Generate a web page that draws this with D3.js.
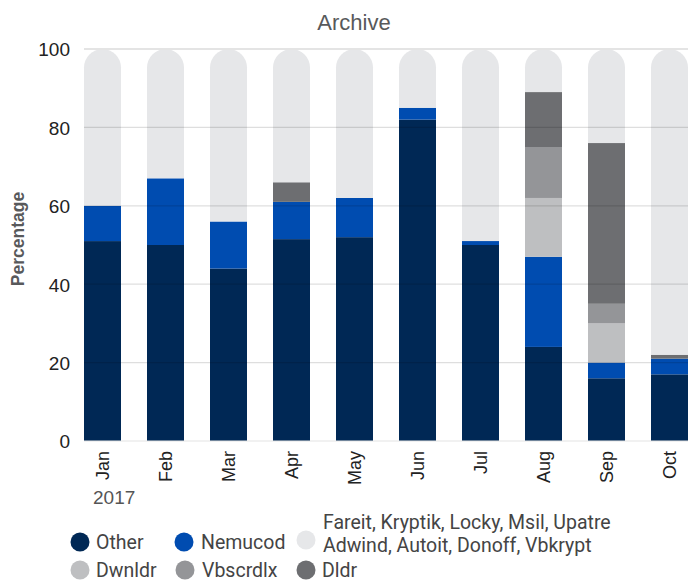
<!DOCTYPE html>
<head>
  <meta charset="utf-8">
  <script src="https://d3js.org/d3.v7.min.js"></script>
  <style>
    body { margin:0; background:#fff; }
    text { font-family: "Liberation Sans", Arial, sans-serif; }
  </style>
</head>
<body>
<script>

var width = 688, height = 582;

var months = ["Jan","Feb","Mar","Apr","May","Jun","Jul","Aug","Sep","Oct"];
var other    = [51, 50, 44, 51.5, 52, 82, 50, 24, 16, 17];
var nemucod  = [9, 17, 12, 9.5, 10, 3, 1, 23, 4, 4];
var dwnldr   = [0, 0, 0, 0, 0, 0, 0, 15, 10, 0];
var vbscrdlx = [0, 0, 0, 0, 0, 0, 0, 13, 5, 0];
var dldr     = [0, 0, 0, 5, 0, 0, 0, 14, 41, 1];
var fareit   = [40, 33, 44, 34, 38, 15, 49, 11, 24, 78];
var yTicks = [0, 20, 40, 60, 80, 100];

var seriesNames = ["Other", "Nemucod", "Dwnldr", "Vbscrdlx", "Dldr", "Fareit"];
var seriesValues = [other, nemucod, dwnldr, vbscrdlx, dldr, fareit];
var colors = ["#002855", "#004cb0", "#bebfc1", "#949598", "#6d6e71", "#e6e7e9"];

var margin = {top: 49, right: 0, bottom: 141, left: 84};

var rows = months.map(function(m, i) {
  var r = {month: m};
  seriesNames.forEach(function(s, j) { r[s] = seriesValues[j][i]; });
  return r;
});

var stacked = d3.stack().keys(seriesNames)(rows);

var x = d3.scaleBand()
  .domain(months)
  .range([margin.left, width - margin.right])
  .paddingInner(26 / 63)
  .paddingOuter(0);

var y = d3.scaleLinear()
  .domain([0, 100])
  .range([height - margin.bottom, margin.top]);

var svg = d3.select("body").append("svg")
  .attr("width", width)
  .attr("height", height);

// title
svg.append("text")
  .attr("x", 354).attr("y", 30)
  .attr("text-anchor", "middle")
  .attr("fill", "#58595b")
  .style("font-size", "22px")
  .text("Archive");

// bars
var bw = x.bandwidth();
stacked.forEach(function(layer, j) {
  var g = svg.append("g").attr("fill", colors[j]);
  layer.forEach(function(d, i) {
    var x0 = x(months[i]);
    var top = y(d[1]), bot = y(d[0]);
    if (bot - top <= 0) return;
    if (seriesNames[j] === "Fareit") {
      // rounded top for the last segment
      var r = bw / 2;
      var p = d3.path();
      p.moveTo(x0, bot);
      p.lineTo(x0, top + r);
      p.arc(x0 + r, top + r, r, Math.PI, 0);
      p.lineTo(x0 + bw, bot);
      p.closePath();
      g.append("path").attr("d", p.toString());
    } else {
      g.append("rect")
        .attr("x", x0).attr("y", top)
        .attr("width", bw).attr("height", bot - top);
    }
  });
});

// gridlines drawn on top of the bars
svg.append("g")
  .selectAll("line")
  .data(yTicks)
  .enter().append("line")
  .attr("x1", margin.left).attr("x2", width)
  .attr("y1", function(d) { return y(d); })
  .attr("y2", function(d) { return y(d); })
  .attr("stroke", function(d) { return (d === 0 || d === 100) ? "#e4e4e4" : "rgba(0,0,0,0.13)"; })
  .attr("stroke-width", function(d) { return d === 100 ? 2 : 1.2; });

// y axis
var yAxis = svg.append("g")
  .attr("transform", "translate(" + (margin.left - 14) + ",0)")
  .call(d3.axisLeft(y).tickValues(yTicks).tickSize(0).tickPadding(0));
yAxis.select(".domain").remove();
yAxis.selectAll("text")
  .attr("fill", "#222")
  .style("font-size", "19px")
  .attr("dy", "0.36em");

svg.append("text")
  .attr("transform", "translate(24,239) rotate(-90)")
  .attr("text-anchor", "middle")
  .attr("fill", "#58595b")
  .style("font-size", "17.5px")
  .style("font-weight", "bold")
  .text("Percentage");

// x axis
var xAxis = svg.append("g")
  .attr("transform", "translate(0," + (height - margin.bottom) + ")")
  .call(d3.axisBottom(x).tickSize(0).tickPadding(0));
xAxis.select(".domain").remove();
xAxis.selectAll("text")
  .attr("transform", "rotate(-90)")
  .attr("x", -10).attr("y", 0)
  .attr("dy", "0.35em")
  .attr("text-anchor", "end")
  .attr("fill", "#222")
  .style("font-size", "18px");

svg.append("text")
  .attr("x", 93).attr("y", 504)
  .attr("fill", "#555")
  .style("font-size", "19px")
  .text("2017");

// legend
var legendItems = [
  {name: ["Other"], color: colors[0], cx: 80, cy: 542, tx: 96},
  {name: ["Nemucod"], color: colors[1], cx: 184, cy: 542, tx: 201},
  {name: ["Fareit, Kryptik, Locky, Msil, Upatre", "Adwind, Autoit, Donoff, Vbkrypt"], color: colors[5], cx: 306, cy: 540, tx: 323},
  {name: ["Dwnldr"], color: colors[2], cx: 80, cy: 570, tx: 96},
  {name: ["Vbscrdlx"], color: colors[3], cx: 185, cy: 570, tx: 202},
  {name: ["Dldr"], color: colors[4], cx: 306, cy: 570, tx: 322}
];
var lg = svg.append("g");
legendItems.forEach(function(it) {
  lg.append("circle")
    .attr("cx", it.cx).attr("cy", it.cy)
    .attr("r", 9.5)
    .attr("fill", it.color);
  var t = lg.append("text")
    .attr("fill", "#444")
    .style("font-family", "Roboto, sans-serif")
    .style("font-size", "19.5px");
  if (it.name.length === 1) {
    t.attr("x", it.tx).attr("y", it.cy + 7).text(it.name[0]);
  } else {
    t.append("tspan").attr("x", it.tx).attr("y", 529).text(it.name[0]);
    t.append("tspan").attr("x", it.tx).attr("y", 552).text(it.name[1]);
  }
});

</script>
</body>
